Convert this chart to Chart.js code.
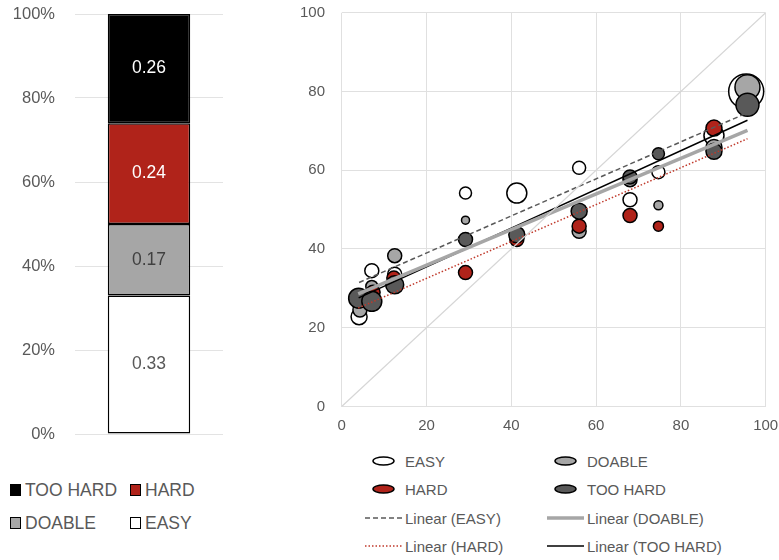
<!DOCTYPE html>
<html>
<head>
<meta charset="utf-8">
<script src="https://cdn.jsdelivr.net/npm/chart.js@4/dist/chart.umd.min.js"></script>
<style>
  body { margin: 0; background: #fff; width: 779px; height: 560px; position: relative; overflow: hidden;
         font-family: "Liberation Sans", Arial, Helvetica, sans-serif; color: #595959; }
  .box { position: absolute; }
  .item { position: absolute; display: flex; align-items: center; white-space: nowrap; }
  .swatch { width: 11px; height: 12px; box-sizing: border-box; border: 1.3px solid #000; margin-right: 4px; }
  .left-legend .item { font-size: 17.5px; height: 20px; }
  .right-legend .item { font-size: 15px; height: 20px; }
  .right-legend svg { margin-right: 3px; }
</style>
</head>
<body>
<div class="box" style="left:0;top:0;width:240px;height:450px;"><canvas id="shareChart"></canvas></div>
<div class="box" style="left:290px;top:0;width:489px;height:440px;"><canvas id="scatterChart"></canvas></div>
<div class="left-legend" id="leftLegend"></div>
<div class="right-legend" id="rightLegend"></div>
<script>
// difficulty groups
const categories = ['EASY', 'DOABLE', 'HARD', 'TOO HARD'];
const shares = [0.33, 0.17, 0.24, 0.26];
const fillColors = ['#ffffff', '#a6a6a6', '#b0231a', '#000000'];
const labelColors = ['#595959', '#404040', '#ffffff', '#ffffff'];

// bubbles: x, y, size
const easyPoints = [
    {x: 4.1, y: 22.8, r: 8}, {x: 7.1, y: 34.5, r: 7}, {x: 12.5, y: 33.6, r: 7},
    {x: 29.2, y: 54.2, r: 6}, {x: 41.3, y: 54.2, r: 10}, {x: 56.0, y: 60.6, r: 6.5},
    {x: 68.0, y: 52.5, r: 7}, {x: 74.7, y: 59.5, r: 6.5}, {x: 87.8, y: 68.8, r: 10},
    {x: 95.4, y: 80.0, r: 17.5}
];
const doablePoints = [
    {x: 4.3, y: 24.5, r: 7}, {x: 7.1, y: 30.5, r: 6}, {x: 12.5, y: 38.3, r: 7},
    {x: 29.2, y: 47.3, r: 4}, {x: 41.3, y: 43.8, r: 7}, {x: 56.0, y: 44.5, r: 7},
    {x: 68.0, y: 57.6, r: 7}, {x: 74.7, y: 51.1, r: 4.5}, {x: 87.8, y: 65.8, r: 8},
    {x: 95.7, y: 81.1, r: 12.5}
];
const hardPoints = [
    {x: 7.4, y: 29.0, r: 7}, {x: 12.3, y: 32.6, r: 7}, {x: 29.2, y: 34.0, r: 7},
    {x: 41.3, y: 42.4, r: 7}, {x: 56.0, y: 45.8, r: 7}, {x: 68.0, y: 48.5, r: 7},
    {x: 74.7, y: 45.8, r: 5}, {x: 87.8, y: 70.7, r: 8}
];
const tooHardPoints = [
    {x: 4.0, y: 27.5, r: 10}, {x: 7.1, y: 26.7, r: 10}, {x: 12.5, y: 30.9, r: 9},
    {x: 29.2, y: 42.4, r: 7}, {x: 41.3, y: 43.6, r: 8}, {x: 56.0, y: 49.6, r: 8},
    {x: 68.0, y: 58.3, r: 7}, {x: 74.7, y: 64.2, r: 6}, {x: 87.8, y: 64.8, r: 8},
    {x: 95.7, y: 76.6, r: 11.5}
];

// linear trend lines (end points) and the y = x reference
const trendEasy = [{x: 4.1, y: 31.5}, {x: 95.7, y: 74.6}];
const trendDoable = [{x: 3.9, y: 28.6}, {x: 95.7, y: 70.1}];
const trendHard = [{x: 3.9, y: 25.0}, {x: 95.7, y: 68.0}];
const trendTooHard = [{x: 4.0, y: 27.6}, {x: 95.7, y: 72.7}];
const diagonal = [{x: 0, y: 0}, {x: 100, y: 100}];

const percentTicks = [0, 0.2, 0.4, 0.6, 0.8, 1];
const scatterTicks = [0, 20, 40, 60, 80, 100];

const fontFamily = '"Liberation Sans", Arial, Helvetica, sans-serif';
const tickGray = '#595959';
Chart.defaults.font.family = fontFamily;
Chart.defaults.color = tickGray;

// value labels in the middle of each stacked segment
const segmentLabels = {
    id: 'segmentLabels',
    afterDatasetsDraw(chart) {
        const ctx = chart.ctx;
        ctx.save();
        ctx.font = '17.5px ' + fontFamily;
        ctx.textAlign = 'center';
        ctx.textBaseline = 'middle';
        chart.data.datasets.forEach((ds, i) => {
            const bar = chart.getDatasetMeta(i).data[0];
            ctx.fillStyle = labelColors[i];
            ctx.fillText(ds.data[0].toFixed(2), bar.x, (bar.y + bar.base) / 2);
        });
        ctx.restore();
    }
};

// fixed axis width, and no extra space reserved above/below for the tick labels
function fixWidth(w) {
    return scale => {
        scale.width = w;
        scale.paddingTop = 0;
        scale.paddingBottom = 0;
    };
}
function fixHeight(h) {
    return scale => {
        scale.height = h;
        scale.paddingLeft = 0;
        scale.paddingRight = 0;
    };
}

new Chart(document.getElementById('shareChart'), {
    type: 'bar',
    data: {
        labels: [''],
        datasets: categories.map((name, i) => ({
            label: name,
            data: [shares[i]],
            backgroundColor: fillColors[i],
            borderColor: '#000',
            borderWidth: 1.5,
            borderSkipped: false,
            categoryPercentage: 1,
            barPercentage: 0.557
        }))
    },
    options: {
        responsive: true,
        maintainAspectRatio: false,
        animation: false,
        layout: { padding: { top: 14, right: 17, bottom: 16, left: 0 } },
        plugins: { legend: { display: false }, tooltip: { enabled: false } },
        scales: {
            x: { stacked: true, display: false },
            y: {
                stacked: true,
                min: 0,
                max: 1,
                afterFit: fixWidth(75),
                afterBuildTicks: scale => { scale.ticks = percentTicks.map(v => ({ value: v })); },
                ticks: {
                    padding: 20,
                    color: tickGray,
                    font: { size: 16.5 },
                    callback: v => Math.round(v * 100) + '%'
                },
                grid: { color: '#e3e3e3', lineWidth: 1, drawTicks: false },
                border: { display: false }
            }
        }
    },
    plugins: [segmentLabels]
});

const bubbleSets = [
    { label: 'EASY', data: easyPoints, color: '#ffffff', order: 4 },
    { label: 'DOABLE', data: doablePoints, color: '#a6a6a6', order: 3 },
    { label: 'HARD', data: hardPoints, color: '#b0231a', order: 2 },
    { label: 'TOO HARD', data: tooHardPoints, color: '#595959', order: 1 }
];
const trendSets = [
    { label: 'Linear (EASY)', data: trendEasy, color: '#595959', width: 1.5, dash: [5, 3] },
    { label: 'Linear (DOABLE)', data: trendDoable, color: '#a6a6a6', width: 3.5, dash: [] },
    { label: 'Linear (HARD)', data: trendHard, color: '#c0392b', width: 1.5, dash: [1.5, 2] },
    { label: 'Linear (TOO HARD)', data: trendTooHard, color: '#000000', width: 1.5, dash: [] }
];

new Chart(document.getElementById('scatterChart'), {
    type: 'bubble',
    data: {
        datasets: [
            {
                type: 'line', label: 'y = x', data: diagonal,
                borderColor: '#d6d6d6', borderWidth: 1.2, pointRadius: 0, fill: false, order: 0
            },
            ...bubbleSets.map(s => ({
                label: s.label,
                data: s.data,
                backgroundColor: s.color,
                borderColor: '#000',
                borderWidth: 1.5,
                order: s.order,
                clip: false
            })),
            ...trendSets.map(s => ({
                type: 'line',
                label: s.label,
                data: s.data,
                borderColor: s.color,
                borderWidth: s.width,
                borderDash: s.dash,
                pointRadius: 0,
                fill: false,
                order: 0
            }))
        ]
    },
    options: {
        responsive: true,
        maintainAspectRatio: false,
        animation: false,
        layout: { autoPadding: false, padding: { top: 12.7, right: 13.3, bottom: 0, left: 0 } },
        plugins: { legend: { display: false }, tooltip: { enabled: false } },
        scales: {
            x: {
                type: 'linear',
                min: 0,
                max: 100,
                afterFit: fixHeight(33.5),
                afterBuildTicks: scale => { scale.ticks = scatterTicks.map(v => ({ value: v })); },
                ticks: { padding: 10, color: tickGray, font: { size: 15 } },
                grid: { color: '#e0e0e0', lineWidth: 1, drawTicks: false },
                border: { display: false }
            },
            y: {
                type: 'linear',
                min: 0,
                max: 100,
                afterFit: fixWidth(51.7),
                afterBuildTicks: scale => { scale.ticks = scatterTicks.map(v => ({ value: v })); },
                ticks: { padding: 16.7, color: tickGray, font: { size: 15 } },
                grid: { color: '#e0e0e0', lineWidth: 1, drawTicks: false },
                border: { display: false }
            }
        }
    }
});

// left legend: two columns, reversed order like the stack
const leftLegend = document.getElementById('leftLegend');
const leftSlots = [[10, 490], [130, 490], [10, 523], [130, 523]];
categories.slice().reverse().forEach((name, k) => {
    const i = categories.indexOf(name);
    const el = document.createElement('div');
    el.className = 'item';
    el.style.left = leftSlots[k][0] + 'px';
    el.style.top = (leftSlots[k][1] - 10) + 'px';
    el.innerHTML = `<span class="swatch" style="background:${fillColors[i]}"></span><span>${name}</span>`;
    leftLegend.appendChild(el);
});

// right legend: bubble markers then trend line samples
const rightLegend = document.getElementById('rightLegend');
const rightCols = [365, 547];
const rightRows = [461, 489, 518, 546];
function addRightItem(col, row, svg, text) {
    const el = document.createElement('div');
    el.className = 'item';
    el.style.left = rightCols[col] + 'px';
    el.style.top = (rightRows[row] - 10) + 'px';
    el.innerHTML = svg + `<span>${text}</span>`;
    rightLegend.appendChild(el);
}
bubbleSets.forEach((s, k) => {
    const svg = `<svg width="37" height="10"><ellipse cx="18.5" cy="5" rx="10.5" ry="4" fill="${s.color}" stroke="#000" stroke-width="1.5"/></svg>`;
    addRightItem(k % 2, Math.floor(k / 2), svg, s.label);
});
trendSets.forEach((s, k) => {
    const dash = s.dash.length ? `stroke-dasharray="${s.dash.join(' ')}"` : '';
    const svg = `<svg width="37" height="10"><line x1="0" y1="5" x2="37" y2="5" stroke="${s.color}" stroke-width="${s.width}" ${dash}/></svg>`;
    addRightItem(k % 2, 2 + Math.floor(k / 2), svg, s.label);
});
</script>
</body>
</html>
